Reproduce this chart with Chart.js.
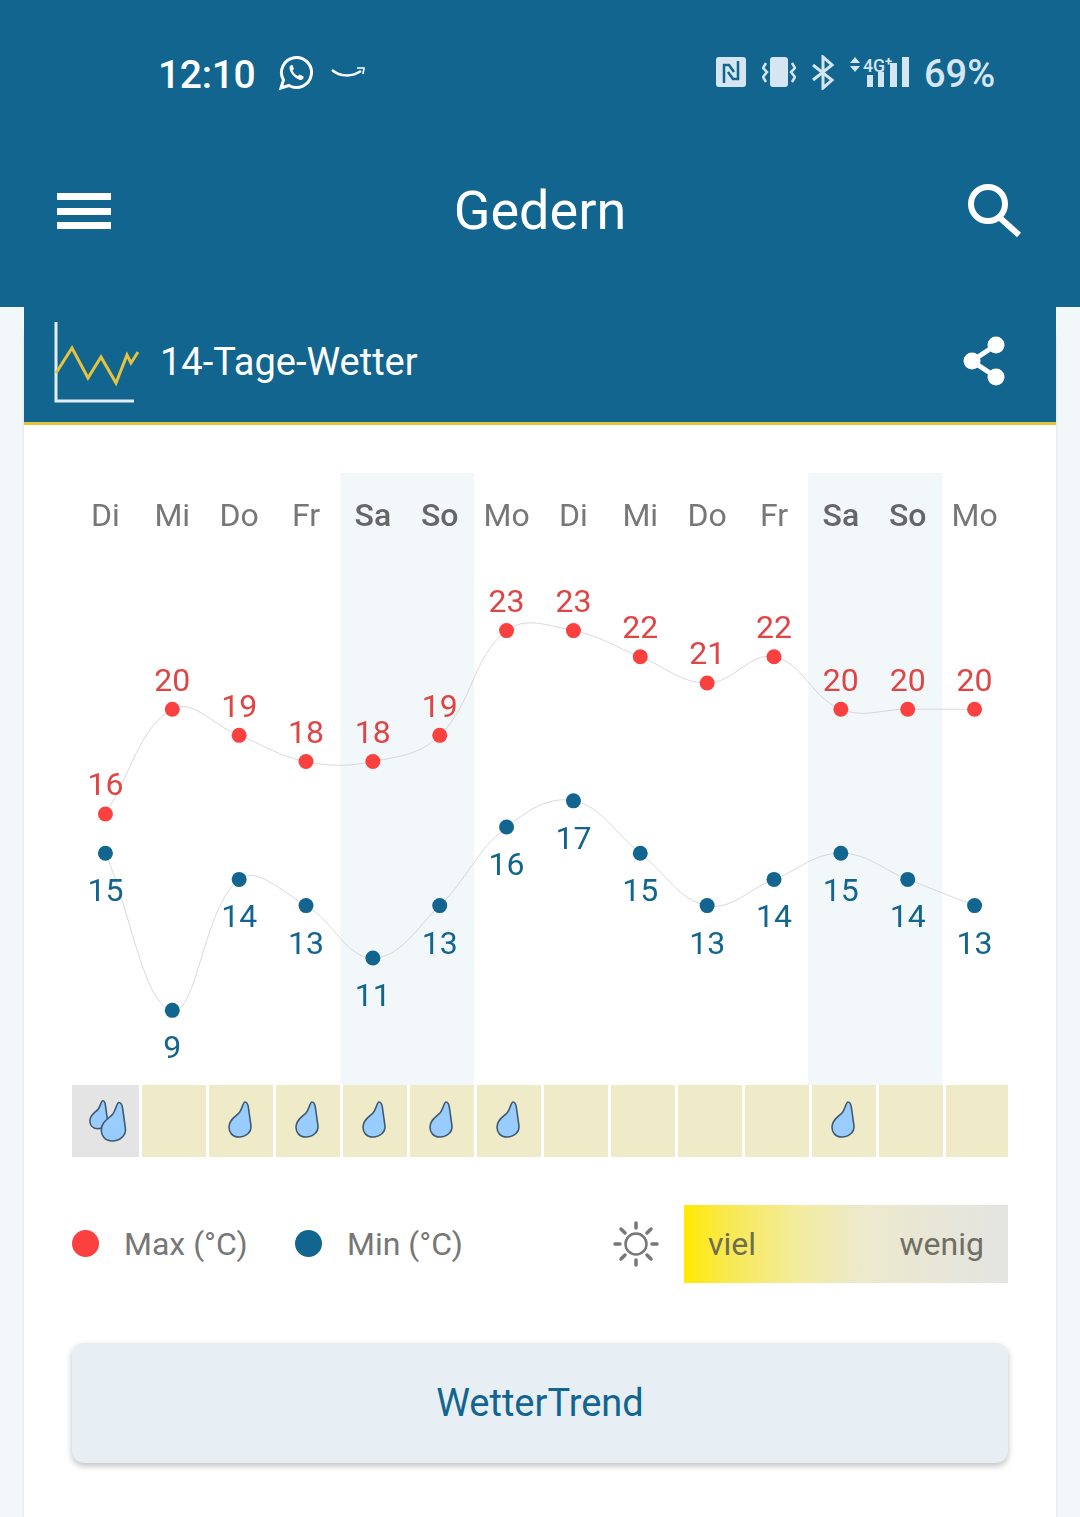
<!DOCTYPE html>
<html lang="de">
<head>
<meta charset="utf-8">
<title>14-Tage-Wetter Gedern</title>
<script src="https://cdn.jsdelivr.net/npm/chart.js@4"></script>
<style>
  html, body { margin: 0; padding: 0; }
  body { width: 1080px; height: 1517px; position: relative; overflow: hidden; background: #f2f7fa; font-family: Roboto, sans-serif; }
  .abs { position: absolute; }
  .txt { position: absolute; white-space: nowrap; line-height: 1; }
  #top { left: 0; top: 0; width: 1080px; height: 307px; background: #12658f; }
  #card { left: 24px; top: 330px; width: 1032px; height: 1220px; background: #fff; border-radius: 8px; box-shadow: 0 0 2px #c4ccd2; }
  #cardHead { left: 24px; top: 300px; width: 1032px; height: 122px; background: #12658f; border-bottom: 3px solid #e6c33c; }
  #chart { position: absolute; left: 72px; top: 473px; }
  #sunBar { left: 684px; top: 1205px; width: 324px; height: 78px; background: linear-gradient(90deg, #ffe900 0%, #f9e94a 12%, #f3ec9e 35%, #ece9cc 55%, #e4e4e2 100%); }
  #btn { left: 72px; top: 1343px; width: 936px; height: 120px; background: #e8eff4; border-radius: 12px; box-shadow: 0 3px 6px rgba(0,0,0,.25); }
  .dot { position: absolute; width: 27px; height: 27px; border-radius: 50%; top: 1230px; }
</style>
</head>
<body>
<div id="top" class="abs"></div>
<div id="card" class="abs"></div>
<div id="cardHead" class="abs"></div>

<!-- status bar -->
<div class="txt" style="left:158px;top:56px;font-size:39px;font-weight:500;color:#fff;letter-spacing:-0.3px">12:10</div>
<svg class="abs" style="left:278px;top:55px" width="36" height="36" viewBox="0 0 36 36" fill="none" stroke="#fff" stroke-width="3">
  <path d="M3 33 L5.5 25 A15 15 0 1 1 11 30.5 Z"/>
  <path d="M12 11 C10 14 14 22 22 25 C25 25 26 23 25.5 21.5 L21.5 19.5 L20 21 C17.5 20 15.5 18 14.5 15.5 L16 14 L14.5 10 C13.5 10 12.5 10 12 11 Z" fill="#fff" stroke="none"/>
</svg>
<svg class="abs" style="left:330px;top:62px" width="36" height="20" viewBox="0 0 36 20" fill="none" stroke="#fff" stroke-width="2.5">
  <path d="M2 8 C10 15 22 15 31 9"/><path d="M27 6 L34 6 L33 12" stroke-width="1.6"/>
</svg>
<svg class="abs" style="left:716px;top:57px" width="30" height="30" viewBox="0 0 30 30">
  <rect width="30" height="30" rx="3" fill="#d5e6f2"/>
  <path d="M8 26 V8 H13 L18 15 M22 4 V22 H17 L12 15" fill="none" stroke="#12658f" stroke-width="2.5"/>
</svg>
<svg class="abs" style="left:762px;top:57px" width="34" height="30" viewBox="0 0 34 30" fill="none" stroke="#d5e6f2" stroke-width="2.5">
  <rect x="8" y="0" width="18" height="30" rx="3" fill="#d5e6f2" stroke="none"/>
  <path d="M4 6 L1 11 L5 15 L1 20 L4 25"/><path d="M30 6 L33 11 L29 15 L33 20 L30 25"/>
</svg>
<svg class="abs" style="left:811px;top:55px" width="24" height="35" viewBox="0 0 24 35" fill="none" stroke="#d5e6f2" stroke-width="3">
  <path d="M2 10 L21 25 L12 33 V2 L21 10 L2 25"/>
</svg>
<svg class="abs" style="left:848px;top:55px" width="64" height="34" viewBox="0 0 64 34" fill="#d5e6f2">
  <path d="M2 8 L7 2 L12 8 Z M2 11 L12 11 L7 17 Z"/>
  <rect x="19" y="20" width="6" height="12"/><rect x="30" y="17" width="6" height="15"/><rect x="42" y="8" width="7" height="24"/><rect x="54" y="2" width="7" height="30"/>
  <text x="15" y="17" font-family="Roboto" font-size="19" font-weight="500" textLength="22" lengthAdjust="spacingAndGlyphs">4G</text>
  <text x="37" y="11" font-family="Roboto" font-size="13" font-weight="700">+</text>
</svg>
<div class="txt" style="left:924px;top:55px;font-size:38px;font-weight:500;color:#d5e6f2">69%</div>

<!-- app bar -->
<div class="abs" style="left:57px;top:193px;width:54px;height:7px;background:#fff"></div>
<div class="abs" style="left:57px;top:208px;width:54px;height:7px;background:#fff"></div>
<div class="abs" style="left:57px;top:222px;width:54px;height:7px;background:#fff"></div>
<div class="txt" style="left:0;width:1080px;text-align:center;top:184px;font-size:54px;color:#fff">Gedern</div>
<svg class="abs" style="left:966px;top:182px" width="58" height="58" viewBox="0 0 58 58" fill="none" stroke="#fff" stroke-width="6">
  <circle cx="22" cy="22" r="17"/><path d="M33 35 L53 53"/>
</svg>

<!-- card head -->
<svg class="abs" style="left:50px;top:320px" width="90" height="86" viewBox="0 0 90 86" fill="none">
  <path d="M6 2 V81 H84" stroke="#e3eef4" stroke-width="3"/>
  <path d="M6 53 L22 28 L38 58 L51 37 L66 63 L77 35 L81 43 L88 32" stroke="#e6c33c" stroke-width="3"/>
</svg>
<div class="txt" style="left:160px;top:343px;font-size:38px;color:#fff">14-Tage-Wetter</div>
<svg class="abs" style="left:962px;top:336px" width="44" height="50" viewBox="0 0 44 50">
  <path d="M34 9 L10 25 L34 41" fill="none" stroke="#fff" stroke-width="5"/>
  <circle cx="34" cy="9" r="8.5" fill="#fff"/><circle cx="10" cy="25" r="8.5" fill="#fff"/><circle cx="34" cy="41" r="8.5" fill="#fff"/>
</svg>

<canvas id="chart" width="936" height="684" style="width:936px;height:684px"></canvas>

<!-- legend -->
<div class="dot" style="left:72px;background:#fb4040"></div>
<div class="txt" style="left:124px;top:1228px;font-size:32px;color:#777">Max (°C)</div>
<div class="dot" style="left:295px;background:#12658f"></div>
<div class="txt" style="left:347px;top:1228px;font-size:32px;color:#777">Min (°C)</div>
<svg class="abs" style="left:613px;top:1221px" width="46" height="46" viewBox="0 0 46 46" fill="none" stroke="#777" stroke-width="3.5" stroke-linecap="round">
  <circle cx="23" cy="23" r="10.5" stroke-width="2.5"/>
  <path d="M23 2 V7 M23 39 V44 M2 23 H7 M39 23 H44 M8 8 L12 12 M34 34 L38 38 M8 38 L12 34 M34 12 L38 8"/>
</svg>
<div id="sunBar" class="abs"></div>
<div class="txt" style="left:708px;top:1228px;font-size:32px;color:#6f6d50">viel</div>
<div class="txt" style="right:96px;top:1228px;font-size:32px;color:#6f6f66">wenig</div>

<div id="btn" class="abs"></div>
<div class="txt" style="left:0;width:1080px;text-align:center;top:1384px;font-size:38px;color:#12658f">WetterTrend</div>

<script>
const days = ['Di', 'Mi', 'Do', 'Fr', 'Sa', 'So', 'Mo', 'Di', 'Mi', 'Do', 'Fr', 'Sa', 'So', 'Mo'];
const maxTemp = [16, 20, 19, 18, 18, 19, 23, 23, 22, 21, 22, 20, 20, 20];
const minTemp = [15, 9, 14, 13, 11, 13, 16, 17, 15, 13, 14, 15, 14, 13];
const sunshine = [0, 1, 1, 1, 1, 1, 1, 1, 1, 1, 1, 1, 1, 1]; // 0 = wenig
const rainDrops = [2, 0, 1, 1, 1, 1, 1, 0, 0, 0, 0, 1, 0, 0];

const RED = '#fb4040';
const BLUE = '#12658f';
const isWeekend = d => d === 'Sa' || d === 'So';

// weekend columns behind everything, down to the top of the cell row
const weekendBands = {
  id: 'weekendBands',
  beforeDraw(chart) {
    const { ctx, scales } = chart;
    const slot = scales.x.width / days.length;
    const bottom = scales.cells.getPixelForValue(1);
    ctx.save();
    ctx.fillStyle = '#f2f7fa';
    days.forEach((d, i) => {
      if (isWeekend(d)) ctx.fillRect(scales.x.getPixelForValue(i) - slot / 2 + 0.8, 0, slot + 0.3, bottom);
    });
    ctx.restore();
  }
};

// first cell runs to the left edge of the row
const firstCell = {
  id: 'firstCell',
  afterDatasetsUpdate(chart) {
    const bar = chart.getDatasetMeta(2).data[0];
    bar.x -= 1.5;
    bar.width = 67;
  }
};

const dropPath = new Path2D('M4 -19 C6 -19 7 -17 7.5 -13 L10 5 C10.5 11 5 16 -2 16 C-9 16 -12 11 -12 6 C-12 -1 -6 -4 -2 -8 C1 -11 2 -19 4 -19 Z');

function drawDrop(ctx, x, y, s) {
  ctx.save();
  ctx.translate(x, y);
  ctx.scale(s, s);
  ctx.fillStyle = '#99ccff';
  ctx.strokeStyle = '#3f5a70';
  ctx.lineWidth = 1.6 / s;
  ctx.fill(dropPath);
  ctx.stroke(dropPath);
  ctx.restore();
}

const drops = {
  id: 'drops',
  afterDatasetsDraw(chart) {
    const { ctx } = chart;
    chart.getDatasetMeta(2).data.forEach((bar, i) => {
      const cy = bar.y + 36;
      if (rainDrops[i] === 1) drawDrop(ctx, bar.x, cy, 1);
      if (rainDrops[i] === 2) {
        drawDrop(ctx, bar.x - 6, cy - 5, 0.8);
        drawDrop(ctx, bar.x + 9, cy + 2.4, 1.1);
      }
    });
  }
};

// temperature numbers above the max points, below the min points
const valueLabels = {
  id: 'valueLabels',
  afterDatasetsDraw(chart) {
    const { ctx } = chart;
    ctx.save();
    ctx.font = '32px Roboto';
    ctx.textAlign = 'center';
    ctx.textBaseline = 'middle';
    chart.getDatasetMeta(0).data.forEach((pt, i) => {
      ctx.fillStyle = '#e04545';
      ctx.fillText(maxTemp[i], pt.x, pt.y - 26.5);
    });
    chart.getDatasetMeta(1).data.forEach((pt, i) => {
      ctx.fillStyle = BLUE;
      ctx.fillText(minTemp[i], pt.x, pt.y + 40);
    });
    ctx.restore();
  }
};

new Chart(document.getElementById('chart'), {
  data: {
    labels: days,
    datasets: [
      {
        type: 'line', label: 'Max (°C)', data: maxTemp, yAxisID: 'y', xAxisID: 'x',
        borderColor: '#d8d8d8', borderWidth: 1, tension: 0.4,
        pointRadius: 7.5, pointBackgroundColor: RED, pointBorderWidth: 0
      },
      {
        type: 'line', label: 'Min (°C)', data: minTemp, yAxisID: 'yMin', xAxisID: 'x',
        borderColor: '#d8d8d8', borderWidth: 1, tension: 0.4,
        pointRadius: 7.5, pointBackgroundColor: BLUE, pointBorderWidth: 0
      },
      {
        type: 'bar', label: 'Sonne',
        data: sunshine.map((s, i) => ({ x: i, y: 1 })),
        xAxisID: 'xCells', yAxisID: 'cells',
        grouped: false,
        barPercentage: 0.955,
        categoryPercentage: 1,
        backgroundColor: sunshine.map(s => (s === 0 ? '#e4e4e4' : '#efebc9'))
      }
    ]
  },
  options: {
    responsive: false,
    animation: false,
    events: [],
    layout: { padding: 0, autoPadding: false },
    plugins: { legend: { display: false }, tooltip: { enabled: false } },
    scales: {
      x: {
        type: 'category',
        position: 'top',
        offset: true,
        grid: { display: false },
        border: { display: false },
        afterFit(scale) {
          // the tick padding only moves the labels, it must not eat into the plot
          scale.height = 100;
          scale.paddingLeft = 0;
          scale.paddingRight = 0;
          scale.paddingTop = 0;
          scale.paddingBottom = 0;
        },
        ticks: {
          autoSkip: false,
          maxRotation: 0,
          padding: 28,
          color: ctx => (isWeekend(days[ctx.index]) ? '#666' : '#777'),
          font: { family: 'Roboto', size: 32, weight: ctx => (isWeekend(days[ctx.index]) ? '500' : '400') }
        }
      },
      xCells: { type: 'linear', display: false, offset: false, min: -0.522, max: 13.448 },
      y: { type: 'linear', display: false, min: 2.9, max: 25.2 },
      yMin: { type: 'linear', display: false, min: 3.4, max: 25.7 },
      cells: { type: 'linear', display: false, min: 0, max: 8.11 }
    }
  },
  plugins: [weekendBands, firstCell, drops, valueLabels]
});
</script>
</body>
</html>
